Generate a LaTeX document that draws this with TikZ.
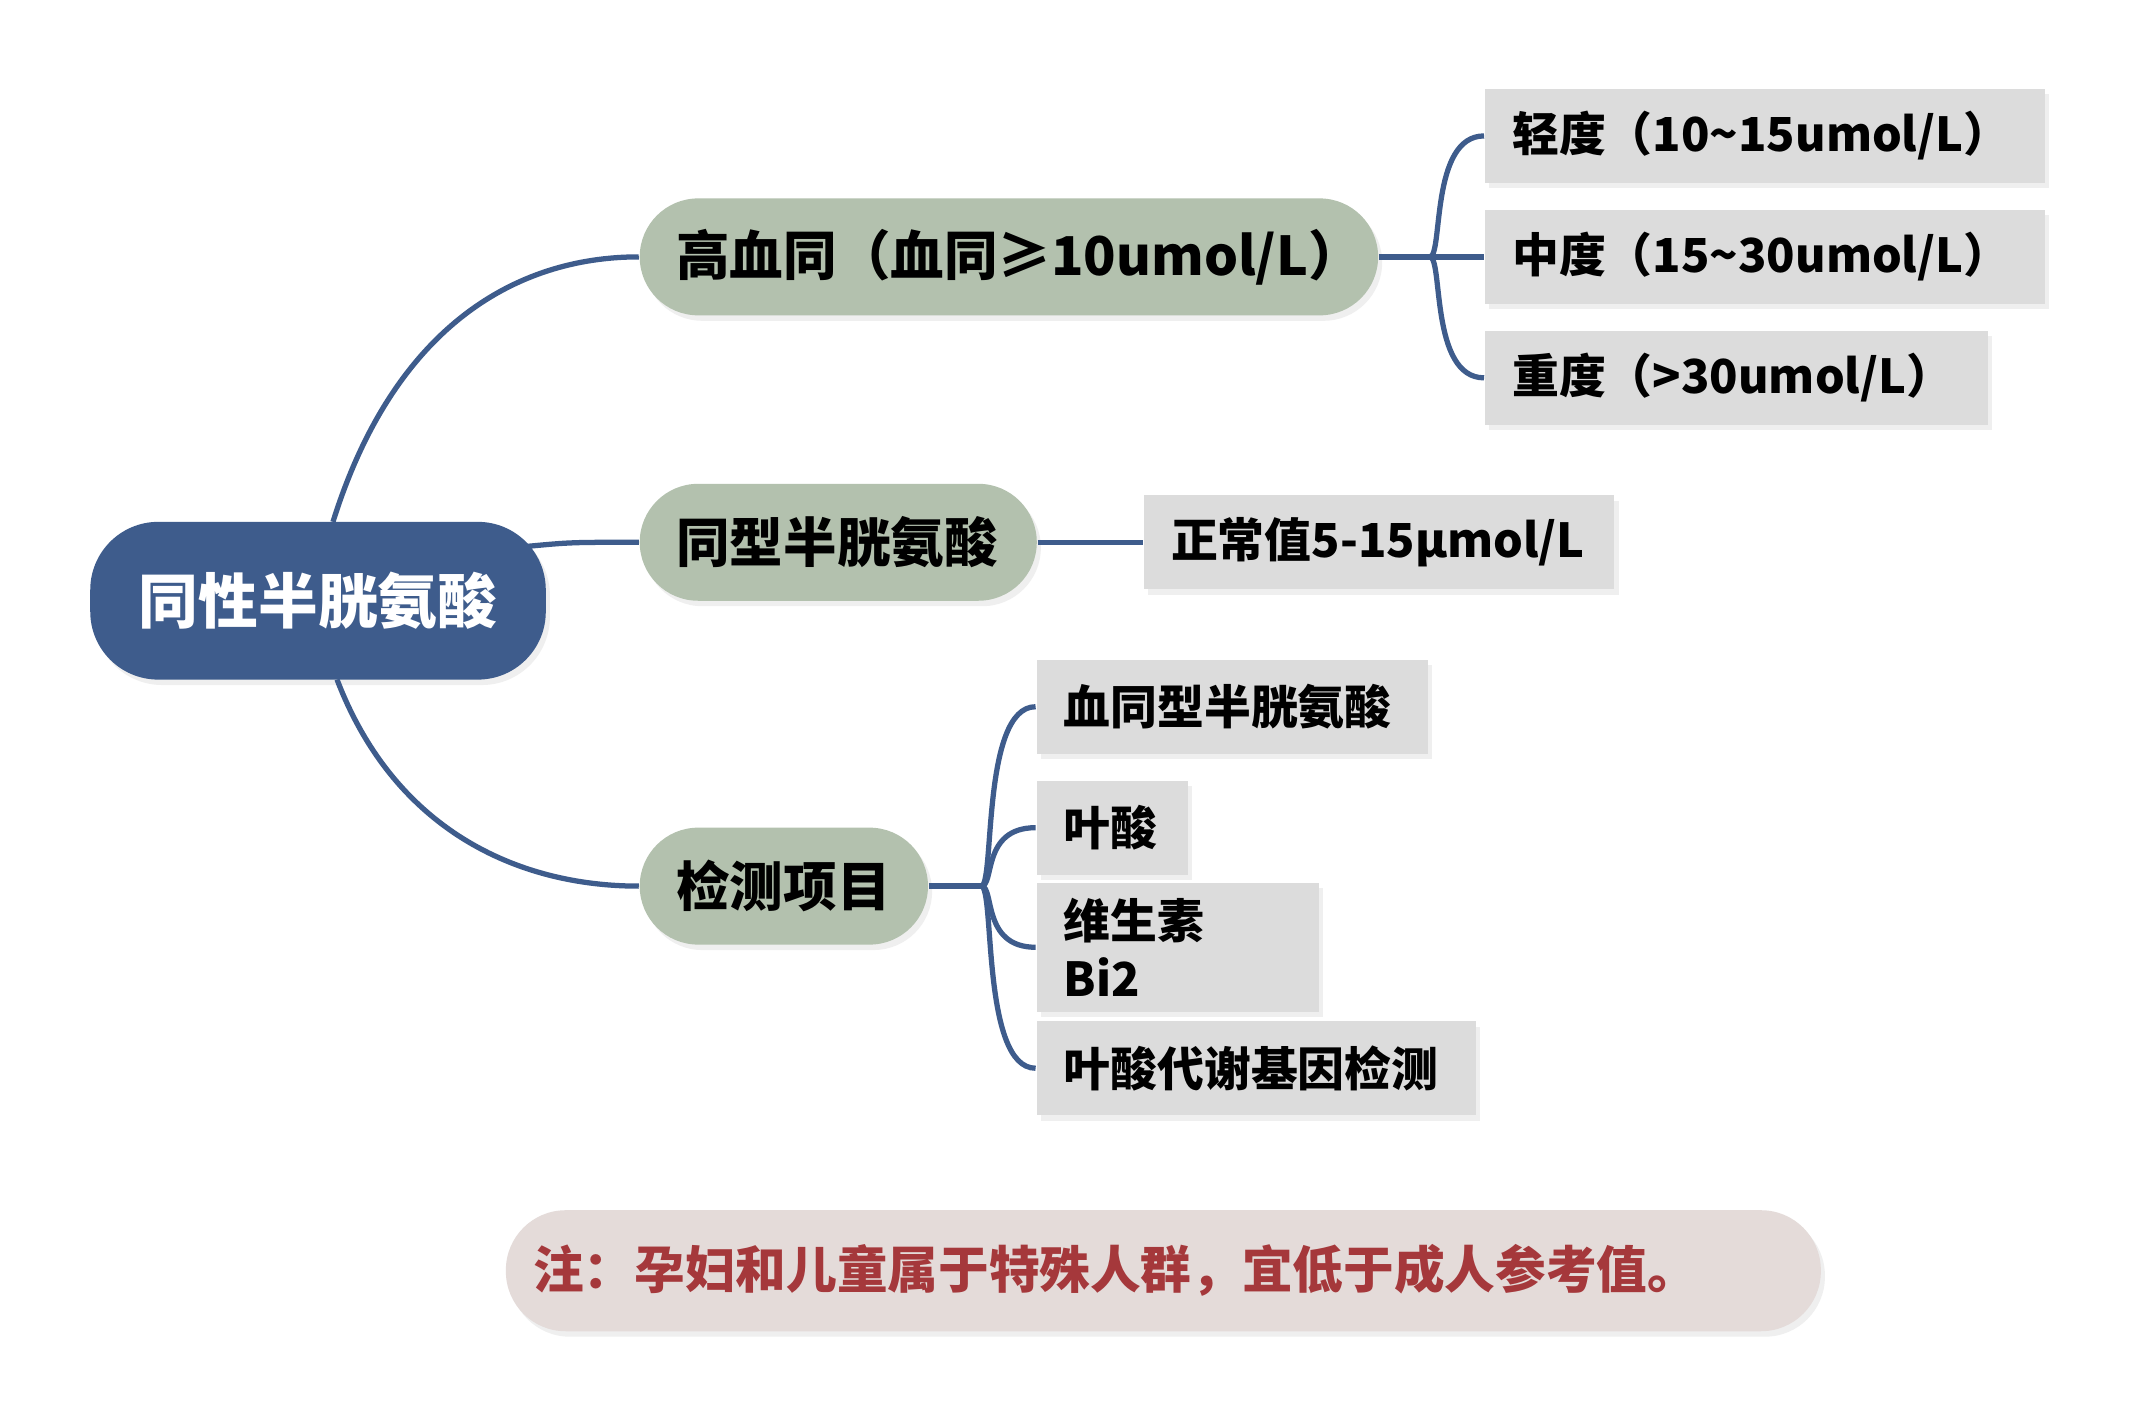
\documentclass[tikz,border=0pt]{standalone}
\usepackage{fontspec}
\setmainfont{Noto Sans CJK SC}
\usetikzlibrary{shadows}
\definecolor{rootblue}{HTML}{3E5C8C}
\definecolor{sage}{HTML}{B3C1AE}
\definecolor{leafgray}{HTML}{DCDCDC}
\definecolor{notebg}{HTML}{E4DBD9}
\definecolor{notered}{HTML}{A5383B}
\definecolor{linkc}{HTML}{3E5C8C}
\tikzset{
  shad/.style={drop shadow={shadow xshift=0.03cm,shadow yshift=-0.04cm,fill=black!12}},
  rootbox/.style={shad,fill=rootblue,rounded corners=0.5cm,text=white,font=\fontsize{12.5}{14}\selectfont\bfseries,minimum width=3.35cm,minimum height=1.16cm},
  mainbox/.style={shad,fill=sage,rounded corners=0.43cm,anchor=west,align=left,inner xsep=0.27cm,text width=#1,minimum height=0.86cm,font=\fontsize{11.2}{13}\selectfont\bfseries},
  leaf/.style={shad,fill=leafgray,anchor=west,align=left,inner xsep=0.2cm,text width=#1,minimum height=0.69cm,font=\fontsize{9.8}{12}\selectfont\bfseries},
  link/.style={draw=linkc,line width=1.1pt},
}
\begin{document}
\begin{tikzpicture}[x=0.01cm,y=-0.01cm]
\useasboundingbox[fill=white] (0,0) rectangle (1568,1044);
\node[rootbox] (root) at (234,442) {同性半胱氨酸};
\node[mainbox=4.89cm] (high) at (470,189) {高血同（血同≥10umol/L）};
\node[mainbox=2.38cm] (hcy) at (470,399) {同型半胱氨酸};
\node[mainbox=1.58cm] (test) at (470,652) {检测项目};
\node[leaf=3.72cm] (l1) at (1092,100) {轻度（10\textasciitilde15umol/L）};
\node[leaf=3.72cm] (l2) at (1092,189) {中度（15\textasciitilde30umol/L）};
\node[leaf=3.30cm] (l3) at (1092,278) {重度（>30umol/L）};
\node[leaf=3.06cm] (n1) at (841,399) {正常值5-15μmol/L};
\node[leaf=2.48cm] (t1) at (762,520) {血同型半胱氨酸};
\node[leaf=0.71cm] (t2) at (762,609) {叶酸};
\node[leaf=1.68cm] (t3) at (762,697) {维生素 Bi2};
\node[leaf=2.83cm] (t4) at (762,786) {叶酸代谢基因检测};
\node[shad,fill=notebg,rounded corners=0.44cm,minimum width=9.67cm,minimum height=0.89cm,text=notered,font=\fontsize{10.6}{12}\selectfont\bfseries,align=left,text width=9.27cm] (note) at (856,935) {注：孕妇和儿童属于特殊人群，宜低于成人参考值。};
\draw[link] (245,384) .. controls (290,240) and (380,189) .. (high.west);
\draw[link] (388,402) .. controls (420,399) .. (hcy.west);
\draw[link] (248,500) .. controls (290,610) and (380,652) .. (test.west);
\draw[link] (hcy.east) -- (n1.west);
\coordinate (hb) at (1052,189);
\draw[link] (high.east) -- (hb);
\draw[link] (hb) .. controls (1062,189) and (1052,100) .. (l1.west);
\draw[link] (hb) -- (l2.west);
\draw[link] (hb) .. controls (1062,189) and (1052,278) .. (l3.west);
\coordinate (tb) at (722,652);
\draw[link] (test.east) -- (tb);
\draw[link] (tb) .. controls (732,652) and (722,520) .. (t1.west);
\draw[link] (tb) .. controls (732,652) and (722,609) .. (t2.west);
\draw[link] (tb) .. controls (732,652) and (722,697) .. (t3.west);
\draw[link] (tb) .. controls (732,652) and (722,786) .. (t4.west);
\end{tikzpicture}
\end{document}
